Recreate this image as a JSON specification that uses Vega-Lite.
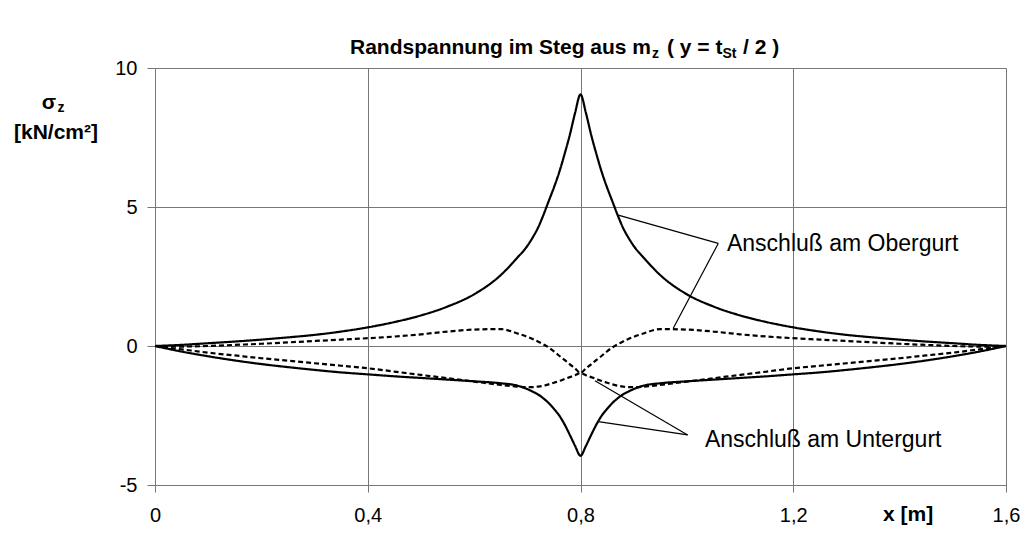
{
  "$schema": "https://vega.github.io/schema/vega-lite/v6.json",
  "width": 851,
  "height": 417,
  "autosize": {"type": "none"},
  "padding": {"left": 155, "top": 68, "right": 19, "bottom": 48},
  "background": "white",
  "config": {
    "font": "Liberation Sans",
    "view": {"stroke": null},
    "axis": {
      "gridColor": "#777777", "gridOpacity": 1, "gridWidth": 1,
      "domainColor": "#777777", "domainWidth": 1,
      "tickColor": "#777777", "tickWidth": 1,
      "labelColor": "#000000", "labelFont": "Liberation Sans",
      "labelFontSize": 20, "labelOverlap": false, "labelFlush": false
    }
  },
  "datasets": {
    "kurven": [
      {"x": 0, "Obergurt_1": 0, "Obergurt_2": 0, "Untergurt_1": 0, "Untergurt_2": 0},
      {"x": 0.05, "Obergurt_1": 0.04, "Obergurt_2": -0.02, "Untergurt_1": -0.2, "Untergurt_2": -0.12},
      {"x": 0.1, "Obergurt_1": 0.1, "Obergurt_2": 0, "Untergurt_1": -0.37, "Untergurt_2": -0.24},
      {"x": 0.15, "Obergurt_1": 0.16, "Obergurt_2": 0.04, "Untergurt_1": -0.52, "Untergurt_2": -0.34},
      {"x": 0.2, "Obergurt_1": 0.23, "Obergurt_2": 0.08, "Untergurt_1": -0.65, "Untergurt_2": -0.44},
      {"x": 0.25, "Obergurt_1": 0.31, "Obergurt_2": 0.13, "Untergurt_1": -0.76, "Untergurt_2": -0.53},
      {"x": 0.3, "Obergurt_1": 0.4, "Obergurt_2": 0.18, "Untergurt_1": -0.86, "Untergurt_2": -0.62},
      {"x": 0.35, "Obergurt_1": 0.52, "Obergurt_2": 0.23, "Untergurt_1": -0.95, "Untergurt_2": -0.71},
      {"x": 0.4, "Obergurt_1": 0.67, "Obergurt_2": 0.28, "Untergurt_1": -1.02, "Untergurt_2": -0.8},
      {"x": 0.45, "Obergurt_1": 0.86, "Obergurt_2": 0.34, "Untergurt_1": -1.09, "Untergurt_2": -0.92},
      {"x": 0.5, "Obergurt_1": 1.1, "Obergurt_2": 0.42, "Untergurt_1": -1.15, "Untergurt_2": -1.04},
      {"x": 0.55, "Obergurt_1": 1.42, "Obergurt_2": 0.52, "Untergurt_1": -1.21, "Untergurt_2": -1.16},
      {"x": 0.6, "Obergurt_1": 1.86, "Obergurt_2": 0.59, "Untergurt_1": -1.27, "Untergurt_2": -1.28},
      {"x": 0.65, "Obergurt_1": 2.55, "Obergurt_2": 0.61, "Untergurt_1": -1.34, "Untergurt_2": -1.4},
      {"x": 0.68, "Obergurt_1": 3.15, "Obergurt_2": 0.46, "Untergurt_1": -1.42, "Untergurt_2": -1.46},
      {"x": 0.7, "Obergurt_1": 3.6, "Obergurt_2": 0.33, "Untergurt_1": -1.55, "Untergurt_2": -1.48},
      {"x": 0.71, "Obergurt_1": 3.9, "Obergurt_2": 0.25, "Untergurt_1": -1.64, "Untergurt_2": -1.48},
      {"x": 0.72, "Obergurt_1": 4.25, "Obergurt_2": 0.16, "Untergurt_1": -1.74, "Untergurt_2": -1.46},
      {"x": 0.73, "Obergurt_1": 4.7, "Obergurt_2": 0.06, "Untergurt_1": -1.88, "Untergurt_2": -1.43},
      {"x": 0.74, "Obergurt_1": 5.2, "Obergurt_2": -0.05, "Untergurt_1": -2.05, "Untergurt_2": -1.38},
      {"x": 0.75, "Obergurt_1": 5.7, "Obergurt_2": -0.19, "Untergurt_1": -2.26, "Untergurt_2": -1.32},
      {"x": 0.76, "Obergurt_1": 6.25, "Obergurt_2": -0.35, "Untergurt_1": -2.5, "Untergurt_2": -1.26},
      {"x": 0.77, "Obergurt_1": 6.9, "Obergurt_2": -0.5, "Untergurt_1": -2.82, "Untergurt_2": -1.19},
      {"x": 0.78, "Obergurt_1": 7.6, "Obergurt_2": -0.66, "Untergurt_1": -3.2, "Untergurt_2": -1.12},
      {"x": 0.79, "Obergurt_1": 8.4, "Obergurt_2": -0.81, "Untergurt_1": -3.6, "Untergurt_2": -1.05},
      {"x": 0.8, "Obergurt_1": 9.05, "Obergurt_2": -0.97, "Untergurt_1": -3.95, "Untergurt_2": -0.97},
      {"x": 0.81, "Obergurt_1": 8.4, "Obergurt_2": -0.81, "Untergurt_1": -3.6, "Untergurt_2": -1.05},
      {"x": 0.82, "Obergurt_1": 7.6, "Obergurt_2": -0.66, "Untergurt_1": -3.2, "Untergurt_2": -1.12},
      {"x": 0.83, "Obergurt_1": 6.9, "Obergurt_2": -0.5, "Untergurt_1": -2.82, "Untergurt_2": -1.19},
      {"x": 0.84, "Obergurt_1": 6.25, "Obergurt_2": -0.35, "Untergurt_1": -2.5, "Untergurt_2": -1.26},
      {"x": 0.85, "Obergurt_1": 5.7, "Obergurt_2": -0.19, "Untergurt_1": -2.26, "Untergurt_2": -1.32},
      {"x": 0.86, "Obergurt_1": 5.2, "Obergurt_2": -0.05, "Untergurt_1": -2.05, "Untergurt_2": -1.38},
      {"x": 0.87, "Obergurt_1": 4.7, "Obergurt_2": 0.06, "Untergurt_1": -1.88, "Untergurt_2": -1.43},
      {"x": 0.88, "Obergurt_1": 4.25, "Obergurt_2": 0.16, "Untergurt_1": -1.74, "Untergurt_2": -1.46},
      {"x": 0.89, "Obergurt_1": 3.9, "Obergurt_2": 0.25, "Untergurt_1": -1.64, "Untergurt_2": -1.48},
      {"x": 0.9, "Obergurt_1": 3.6, "Obergurt_2": 0.33, "Untergurt_1": -1.55, "Untergurt_2": -1.48},
      {"x": 0.92, "Obergurt_1": 3.15, "Obergurt_2": 0.46, "Untergurt_1": -1.42, "Untergurt_2": -1.46},
      {"x": 0.95, "Obergurt_1": 2.55, "Obergurt_2": 0.61, "Untergurt_1": -1.34, "Untergurt_2": -1.4},
      {"x": 1.0, "Obergurt_1": 1.86, "Obergurt_2": 0.59, "Untergurt_1": -1.27, "Untergurt_2": -1.28},
      {"x": 1.05, "Obergurt_1": 1.42, "Obergurt_2": 0.52, "Untergurt_1": -1.21, "Untergurt_2": -1.16},
      {"x": 1.1, "Obergurt_1": 1.1, "Obergurt_2": 0.42, "Untergurt_1": -1.15, "Untergurt_2": -1.04},
      {"x": 1.15, "Obergurt_1": 0.86, "Obergurt_2": 0.34, "Untergurt_1": -1.09, "Untergurt_2": -0.92},
      {"x": 1.2, "Obergurt_1": 0.67, "Obergurt_2": 0.28, "Untergurt_1": -1.02, "Untergurt_2": -0.8},
      {"x": 1.25, "Obergurt_1": 0.52, "Obergurt_2": 0.23, "Untergurt_1": -0.95, "Untergurt_2": -0.71},
      {"x": 1.3, "Obergurt_1": 0.4, "Obergurt_2": 0.18, "Untergurt_1": -0.86, "Untergurt_2": -0.62},
      {"x": 1.35, "Obergurt_1": 0.31, "Obergurt_2": 0.13, "Untergurt_1": -0.76, "Untergurt_2": -0.53},
      {"x": 1.4, "Obergurt_1": 0.23, "Obergurt_2": 0.08, "Untergurt_1": -0.65, "Untergurt_2": -0.44},
      {"x": 1.45, "Obergurt_1": 0.16, "Obergurt_2": 0.04, "Untergurt_1": -0.52, "Untergurt_2": -0.34},
      {"x": 1.5, "Obergurt_1": 0.1, "Obergurt_2": 0, "Untergurt_1": -0.37, "Untergurt_2": -0.24},
      {"x": 1.55, "Obergurt_1": 0.04, "Obergurt_2": -0.02, "Untergurt_1": -0.2, "Untergurt_2": -0.12},
      {"x": 1.6, "Obergurt_1": 0, "Obergurt_2": 0, "Untergurt_1": 0, "Untergurt_2": 0}
    ]
  },
  "encoding": {
    "x": {
      "field": "x", "type": "quantitative",
      "scale": {"domain": [0, 1.6], "nice": false, "zero": false},
      "axis": {
        "title": null, "values": [0, 0.4, 0.8, 1.2, 1.6],
        "labelExpr": "replace(format(datum.value, '.1~f'), '.', ',')",
        "grid": true, "tickSize": 7, "labelPadding": 23, "labelBaseline": "middle"
      }
    },
    "y": {
      "field": "y", "type": "quantitative",
      "scale": {"domain": [-5, 10], "nice": false, "zero": false},
      "axis": {
        "title": null, "values": [-5, 0, 5, 10],
        "labelExpr": "datum.value < 0 ? '-' + abs(datum.value) : '' + datum.value",
        "grid": true, "tickSize": 8, "labelPadding": 10
      }
    }
  },
  "layer": [
    {
      "data": {"name": "kurven"},
      "transform": [
        {"fold": ["Obergurt_1", "Obergurt_2", "Untergurt_1", "Untergurt_2"], "as": ["kurve", "y"]}
      ],
      "mark": {"type": "line", "color": "#000000", "strokeWidth": 2.2, "interpolate": "monotone"},
      "encoding": {
        "detail": {"field": "kurve", "type": "nominal"},
        "strokeDash": {
          "field": "kurve", "type": "nominal", "legend": null,
          "scale": {
            "domain": ["Obergurt_1", "Obergurt_2", "Untergurt_1", "Untergurt_2"],
            "range": [[1, 0], [5, 3], [1, 0], [5, 3]]
          }
        }
      }
    },
    {
      "data": {"values": [
        {"x": 1.059, "y": 3.69, "x2": 0.871, "y2": 4.71},
        {"x": 1.059, "y": 3.69, "x2": 0.9744, "y2": 0.64},
        {"x": 1.0015, "y": -3.2, "x2": 0.8334, "y2": -2.72},
        {"x": 1.0015, "y": -3.2, "x2": 0.8272, "y2": -1.25}
      ]},
      "mark": {"type": "rule", "color": "#000000", "strokeWidth": 1.2},
      "encoding": {
        "x2": {"field": "x2"},
        "y2": {"field": "y2"}
      }
    },
    {
      "data": {"values": [
        {"x": 1.0754, "y": 3.66, "t": "Anschluß am Obergurt"},
        {"x": 1.034, "y": -3.38, "t": "Anschluß am Untergurt"}
      ]},
      "mark": {"type": "text", "align": "left", "baseline": "middle", "fontSize": 23, "color": "#000000"},
      "encoding": {"text": {"field": "t"}}
    },
    {
      "data": {"values": [
        {"x": 0.3666, "y": 10.5, "t": "Randspannung im Steg aus m"},
        {"x": 0.9626, "y": 10.5, "t": "( y = t"},
        {"x": 1.1055, "y": 10.5, "t": "/ 2 )"}
      ]},
      "mark": {"type": "text", "align": "left", "baseline": "alphabetic", "fontSize": 21, "fontWeight": "bold", "color": "#000000"},
      "encoding": {"text": {"field": "t"}}
    },
    {
      "data": {"values": [
        {"x": 0.9344, "y": 10.36, "t": "z"},
        {"x": 1.067, "y": 10.36, "t": "St"}
      ]},
      "mark": {"type": "text", "align": "left", "baseline": "alphabetic", "fontSize": 14, "fontWeight": "bold", "color": "#000000"},
      "encoding": {"text": {"field": "t"}}
    },
    {
      "data": {"values": [
        {"x": -0.1993, "y": 8.525, "t": "σ"},
        {"x": -0.1861, "y": 7.446, "t": "[kN/cm²]"}
      ]},
      "mark": {"type": "text", "align": "center", "baseline": "alphabetic", "fontSize": 21, "fontWeight": "bold", "color": "#000000"},
      "encoding": {"text": {"field": "t"}}
    },
    {
      "data": {"values": [
        {"x": -0.1833, "y": 8.417, "t": "z"}
      ]},
      "mark": {"type": "text", "align": "left", "baseline": "alphabetic", "fontSize": 14, "fontWeight": "bold", "color": "#000000"},
      "encoding": {"text": {"field": "t"}}
    },
    {
      "data": {"values": [
        {"x": 1.3687, "y": -6.08, "t": "x [m]"}
      ]},
      "mark": {"type": "text", "align": "left", "baseline": "middle", "fontSize": 21, "fontWeight": "bold", "color": "#000000"},
      "encoding": {"text": {"field": "t"}}
    }
  ]
}
